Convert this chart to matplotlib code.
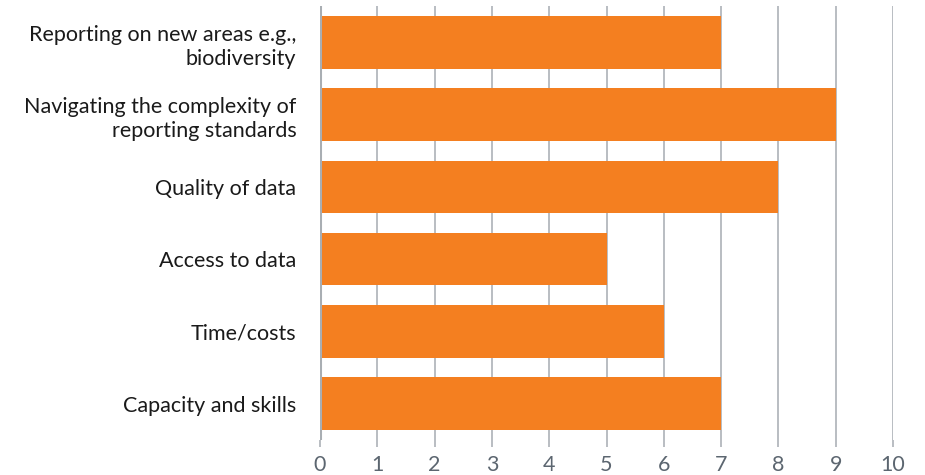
import matplotlib.pyplot as plt

categories = ['Reporting on new areas e.g.,\nbiodiversity',
              'Navigating the complexity of\nreporting standards',
              'Quality of data',
              'Access to data',
              'Time/costs',
              'Capacity and skills']
values = [7, 9, 8, 5, 6, 7]
xticks = list(range(0, 11))

plt.rcParams['font.family'] = ['Lato', 'DejaVu Sans']

fig = plt.figure(figsize=(9.25, 4.75), dpi=100)
ax = fig.add_axes([0.346, 0.0745, 0.6194, 0.912])

ypos = list(range(len(categories)))
ax.barh(ypos, values, height=0.73, color='#F47F20', zorder=3)
ax.set_ylim(len(categories) - 0.5, -0.5)
ax.set_xlim(0, 10)

# grid
ax.set_xticks(xticks)
ax.xaxis.grid(True, color='#B3B8BD', linewidth=1.3, zorder=0)
ax.axvline(0, color='#A9AEB3', linewidth=2.2, zorder=4)

ax.set_yticks(ypos)
ax.set_yticklabels(categories, fontsize=15.5, color='#1A1A1A', linespacing=1.25)
ax.tick_params(axis='y', length=0, pad=17)
ax.tick_params(axis='x', length=5, width=1.3, color='#B3B8BD',
               labelsize=15.5, labelcolor='#5C6670', pad=6)

for s in ax.spines.values():
    s.set_visible(False)

plt.savefig('out.png', dpi=100)
